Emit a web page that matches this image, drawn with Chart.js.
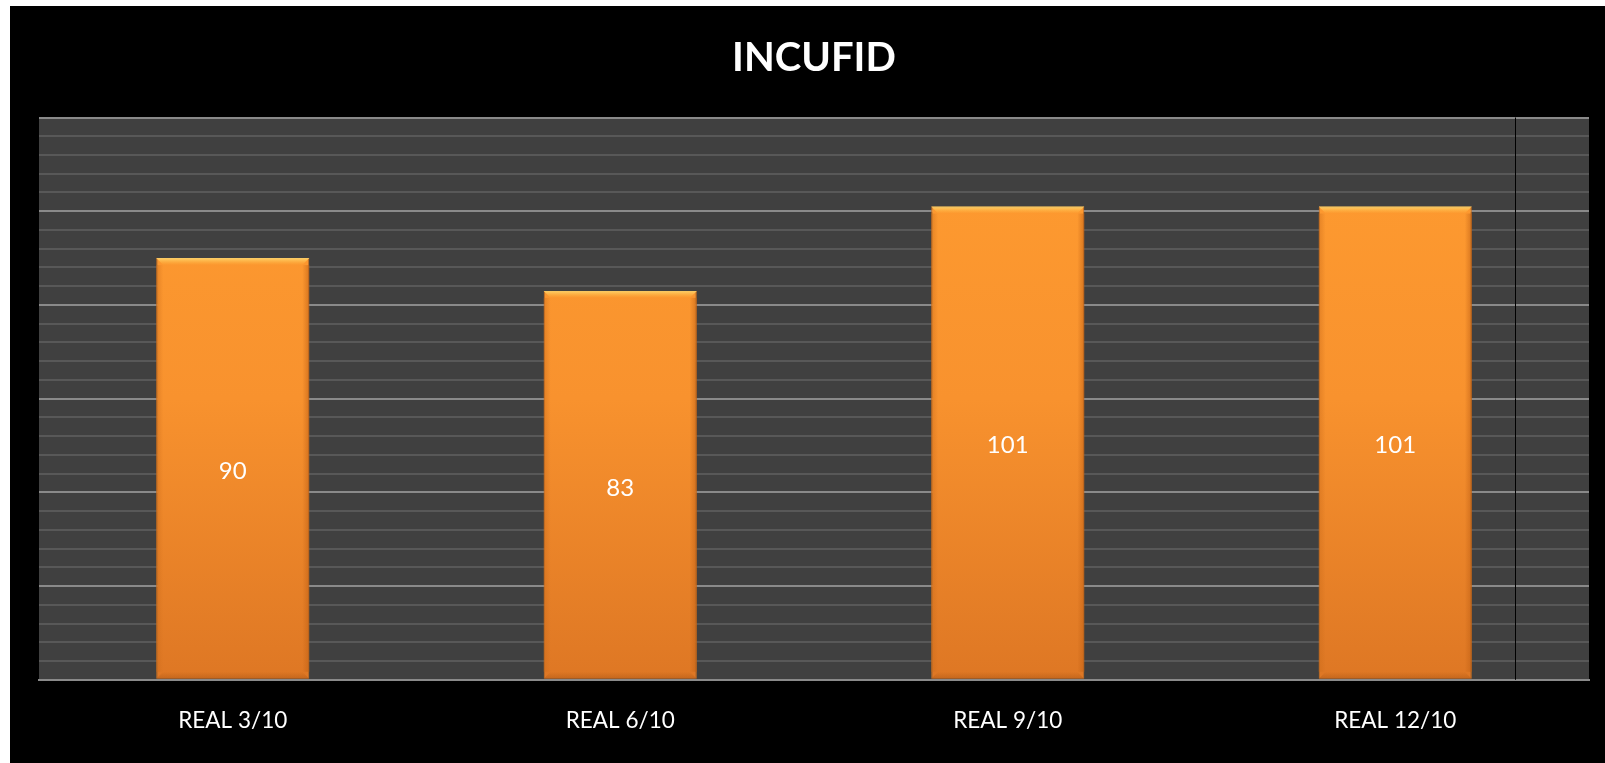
<!DOCTYPE html>
<html lang="en">
<head>
  <meta charset="UTF-8" />
  <title>INCUFID</title>
  <style>
    * { box-sizing: border-box; margin: 0; padding: 0; }
    html, body { background: #fff; width: 1605px; height: 763px; overflow: hidden; }
    .wrap {
      position: absolute;
      left: 10px;
      top: 6px;
      width: 1595px;
      height: 757px;
      background: #000;
    }
  </style>
</head>
<body>
  <div class="wrap"><canvas id="chart"></canvas></div>

  <script src="https://cdn.jsdelivr.net/npm/chart.js"></script>
  <script>
const labels = ['REAL 3/10', 'REAL 6/10', 'REAL 9/10', 'REAL 12/10'];
const values = [90, 83, 101, 101];
const yMax = 120;
const majorStep = 20;
const minorStep = 4;
// thin black divider near the right end of the plot (in category units)
const dividerAt = 3.31;

const plotBg = {
  id: 'plotBg',
  beforeDraw(chart) {
    const { ctx, chartArea: a } = chart;
    ctx.save();
    ctx.fillStyle = '#404040';
    ctx.fillRect(a.left, a.top, a.right - a.left, a.bottom - a.top);
    ctx.restore();
  },
  beforeDatasetsDraw(chart) {
    const { ctx, chartArea: a } = chart;
    const x = Math.round(chart.scales.x.getPixelForValue(dividerAt)) + 0.5;
    ctx.save();
    ctx.strokeStyle = '#000';
    ctx.lineWidth = 1;
    ctx.beginPath();
    ctx.moveTo(x, a.top);
    ctx.lineTo(x, a.bottom);
    ctx.stroke();
    ctx.restore();
  }
};

// bevel look + value labels
const barDeco = {
  id: 'barDeco',
  afterDatasetsDraw(chart) {
    const { ctx } = chart;
    const meta = chart.getDatasetMeta(0);
    meta.data.forEach((bar, i) => {
      const { x, y, base, width } = bar.getProps(['x', 'y', 'base', 'width'], true);
      const l = x - width / 2, r = x + width / 2;
      const b = 7;
      ctx.save();
      // top highlight
      let g = ctx.createLinearGradient(0, y, 0, y + b);
      g.addColorStop(0, 'rgba(255,214,110,0.95)');
      g.addColorStop(1, 'rgba(255,190,70,0)');
      ctx.fillStyle = g;
      ctx.beginPath();
      ctx.moveTo(l, y); ctx.lineTo(r, y); ctx.lineTo(r - b, y + b); ctx.lineTo(l + b, y + b);
      ctx.closePath(); ctx.fill();
      // side shading
      g = ctx.createLinearGradient(r - b, 0, r, 0);
      g.addColorStop(0, 'rgba(190,95,20,0)');
      g.addColorStop(1, 'rgba(190,95,20,0.6)');
      ctx.fillStyle = g;
      ctx.fillRect(r - b, y + b, b, base - y - 2 * b);
      g = ctx.createLinearGradient(l, 0, l + b, 0);
      g.addColorStop(0, 'rgba(200,105,25,0.45)');
      g.addColorStop(1, 'rgba(200,105,25,0)');
      ctx.fillStyle = g;
      ctx.fillRect(l, y + b, b, base - y - 2 * b);
      // bottom shading
      g = ctx.createLinearGradient(0, base - b, 0, base);
      g.addColorStop(0, 'rgba(170,85,20,0)');
      g.addColorStop(1, 'rgba(170,85,20,0.5)');
      ctx.fillStyle = g;
      ctx.beginPath();
      ctx.moveTo(l + b, base - b); ctx.lineTo(r - b, base - b); ctx.lineTo(r, base); ctx.lineTo(l, base);
      ctx.closePath(); ctx.fill();
      // value label
      ctx.fillStyle = '#fff';
      ctx.font = '24px Lato, "Open Sans", sans-serif';
      ctx.textAlign = 'center';
      ctx.textBaseline = 'middle';
      ctx.fillText(String(values[i]), x, (y + base) / 2 + 3);
      ctx.restore();
    });
  }
};

const ctx = document.getElementById('chart');
new Chart(ctx, {
  type: 'bar',
  data: {
    labels,
    datasets: [{
      data: values,
      backgroundColor(c) {
        const a = c.chart.chartArea;
        if (!a) return '#F59030';
        const g = c.chart.ctx.createLinearGradient(0, a.top, 0, a.bottom);
        g.addColorStop(0, '#FF9C30');
        g.addColorStop(0.5, '#F8922E');
        g.addColorStop(1, '#DE7724');
        return g;
      },
      borderColor: '#D0721F',
      borderWidth: 1,
      categoryPercentage: 0.395,
      barPercentage: 1
    }]
  },
  options: {
    responsive: true,
    maintainAspectRatio: false,
    animation: false,
    layout: { padding: { left: 29, right: 16, top: 0, bottom: 1 } },
    plugins: {
      legend: { display: false },
      tooltip: { enabled: false },
      title: {
        display: true,
        text: 'INCUFID',
        color: '#fff',
        font: { family: 'Lato, "Open Sans", sans-serif', size: 40, weight: 'bold' },
        padding: { top: 28, bottom: 35.5 }
      }
    },
    scales: {
      x: {
        grid: { display: false, drawTicks: false },
        border: { display: true, color: '#8a8a8a', width: 2 },
        ticks: {
          color: '#fff',
          font: { family: 'Lato, "Open Sans", sans-serif', size: 22.5 },
          padding: 27.6,
          maxRotation: 0
        }
      },
      y: {
        min: 0,
        max: yMax,
        grid: {
          drawTicks: false,
          color: c => (c.tick.value % majorStep === 0 ? '#8a8a8a' : '#585858'),
          lineWidth: 2
        },
        border: { display: false },
        ticks: { display: false, stepSize: minorStep }
      }
    }
  },
  plugins: [plotBg, barDeco]
});
  </script>
</body>
</html>
